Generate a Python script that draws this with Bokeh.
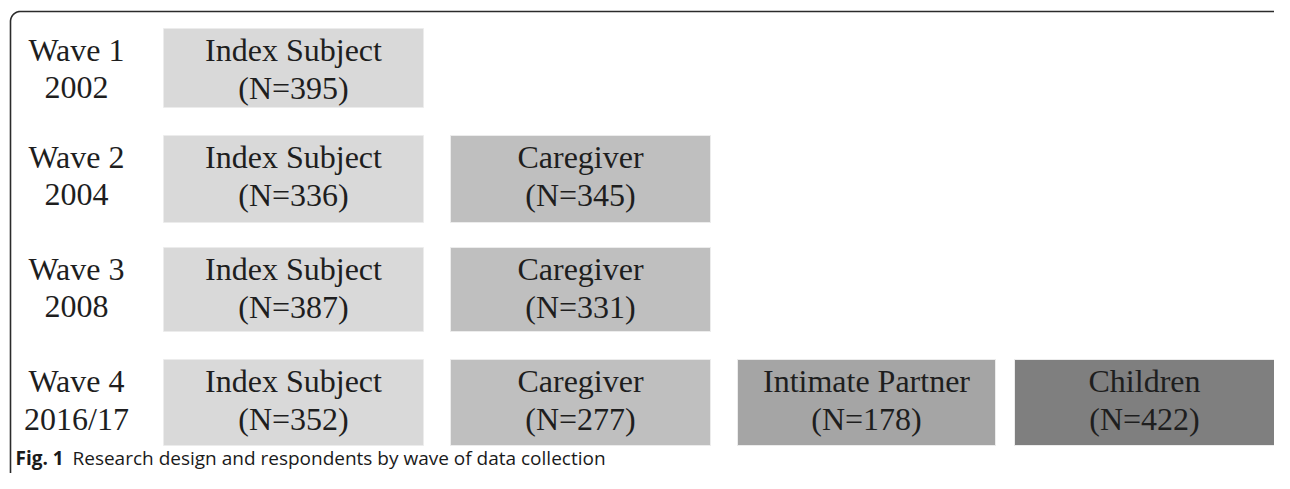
import numpy as np
from bokeh.plotting import figure
from bokeh.models import ColumnDataSource, Range1d
from bokeh.core.properties import value
from bokeh.embed import file_html
from bokeh.resources import INLINE

# ---- data ----
waves = ["Wave 1", "Wave 2", "Wave 3", "Wave 4"]
years = ["2002", "2004", "2008", "2016/17"]
groups = ["Index Subject", "Caregiver", "Intimate Partner", "Children"]
index_subject = [395, 336, 387, 352]
caregiver = [None, 345, 331, 277]
intimate_partner = [None, None, None, 178]
children = [None, None, None, 422]
caption_bold = "Fig. 1"
caption_text = "Research design and respondents by wave of data collection"

# ---- layout (picture pixel coordinates) ----
W, H = 1274, 473
row_top = [28, 135, 247, 359]
row_bottom = [107, 222, 331, 445]
col_left = [163, 450, 737, 1014]
col_right = [423, 710, 995, 1274]
fills = ["#d9d9d9", "#bfbfbf", "#a5a5a5", "#7f7f7f"]
SERIF = value("Liberation Serif")
FS = "32px"
TXT = "#1e1e1e"
L1, L2 = 21, 59  # vertical centres of the two text lines below a row's top

p = figure(width=W, height=H, output_backend="svg", toolbar_location=None,
           x_range=Range1d(0, W), y_range=Range1d(H, 0),
           min_border=0, outline_line_color=None, background_fill_color="white")
p.axis.visible = False
p.grid.visible = False

series = [index_subject, caregiver, intimate_partner, children]
L, R, T, B, C, X, Y1, Y2, T1, T2 = [], [], [], [], [], [], [], [], [], []
for ci, vals in enumerate(series):
    for ri, v in enumerate(vals):
        if v is None:
            continue
        L.append(col_left[ci]); R.append(col_right[ci])
        T.append(row_top[ri]); B.append(row_bottom[ri])
        C.append(fills[ci])
        X.append((col_left[ci] + col_right[ci]) / 2)
        Y1.append(row_top[ri] + L1); Y2.append(row_top[ri] + L2)
        T1.append(groups[ci]); T2.append(f"(N={v})")

src = ColumnDataSource(dict(l=L, r=R, t=T, b=B, c=C, x=X, y1=Y1, y2=Y2, t1=T1, t2=T2))
p.quad(left="l", right="r", top="t", bottom="b", fill_color="c",
       line_color="#ececec", line_width=1, source=src)
for ycol, tcol in (("y1", "t1"), ("y2", "t2")):
    p.text(x="x", y=ycol, text=tcol, source=src, text_align="center",
           text_baseline="middle", text_font=SERIF, text_font_size=FS, text_color=TXT)

wsrc = ColumnDataSource(dict(x=[76] * 4, y1=[t + L1 for t in row_top],
                             y2=[t + L2 for t in row_top], w=waves, yr=years))
for ycol, tcol in (("y1", "w"), ("y2", "yr")):
    p.text(x="x", y=ycol, text=tcol, source=wsrc, text_align="center",
           text_baseline="middle", text_font=SERIF, text_font_size=FS, text_color=TXT)

# frame with rounded top-left corner
r = 10
t = np.linspace(0, np.pi / 2, 20)
fx = list(10 + r - r * np.cos(t))
fy = list(11 + r - r * np.sin(t))
frame_x = [10] + fx + [W + 5]
frame_y = [H + 5] + fy + [11]
p.line(frame_x, frame_y, line_color="#2b2b2b", line_width=1.6)

# caption
p.text(x=[15], y=[457], text=[caption_bold], text_font=value("Open Sans"),
       text_font_style="bold", text_font_size="19px", text_baseline="middle",
       text_color="#1a1a1a")
p.text(x=[72], y=[457], text=[caption_text], text_font=value("Open Sans"),
       text_font_size="19px", text_baseline="middle", text_color="#1a1a1a")

open("out.html", "w").write(file_html(p, INLINE))
